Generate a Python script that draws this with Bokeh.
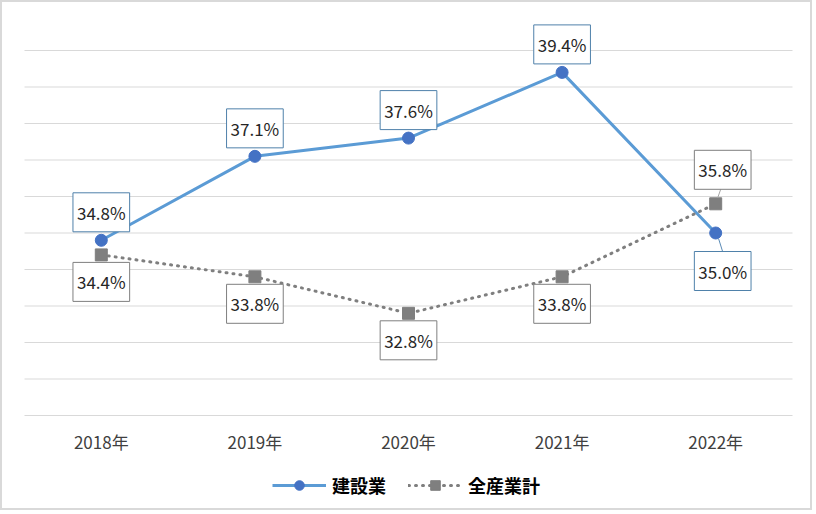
from bokeh.plotting import figure
from bokeh.models import (Range1d, Label, Legend, LegendItem)
from bokeh.embed import file_html
from bokeh.resources import INLINE

years = ["2018年", "2019年", "2020年", "2021年", "2022年"]
construction = [34.8, 37.1, 37.6, 39.4, 35.0]
all_industry = [34.4, 33.8, 32.8, 33.8, 35.8]
series_names = ["建設業", "全産業計"]
grid_values = list(range(30, 41))

FONT = "Noto Sans CJK JP"
xs = list(range(len(years)))

W, H = 812, 510
PX_X = 153.6   # pixels per category
PX_Y = 36.5    # pixels per percentage point

p = figure(width=W, height=H, output_backend="svg", toolbar_location=None,
           x_range=Range1d(-0.5 - 22 / PX_X, 4.5 + 22 / PX_X),
           y_range=Range1d(30 - 97 / PX_Y, 40 + 48 / PX_Y),
           min_border=0)
p.styles = {"border": "2px solid #d9d9d9"}
p.outline_line_color = None
p.background_fill_color = "white"
p.border_fill_color = "white"
p.xaxis.visible = False
p.yaxis.visible = False
p.xgrid.visible = False
p.ygrid.visible = False

# horizontal gridlines
p.segment(x0=[-0.5] * len(grid_values), x1=[4.5] * len(grid_values),
          y0=grid_values, y1=grid_values, line_color="#d9d9d9", line_width=1)

# category labels
p.text(x=xs, y=[30] * len(xs), text=years, y_offset=26,
       text_align="center", text_baseline="middle",
       text_font={"value": FONT}, text_font_size={"value": "17px"}, text_color="#404040")

l1 = p.line(xs, construction, line_color="#5b9bd5", line_width=3)
s1 = p.scatter(xs, construction, marker="circle", size=12, fill_color="#4472c4", line_color="#4472c4")
l2 = p.line(xs, all_industry, line_color="#7f7f7f", line_width=3, line_dash="1 6", line_cap="round")
s2 = p.scatter(xs, all_industry, marker="square", size=12, fill_color="#7f7f7f", line_color="#7f7f7f")


def add_label(x, v, dy, dx, border):
    p.add_layout(Label(x=x, y=v, text=f"{v:.1f}%", x_offset=dx, y_offset=dy,
                       text_align="center", text_baseline="middle",
                       text_font=FONT, text_font_size="17px", text_color="#262626",
                       background_fill_color="white", border_line_color=border,
                       border_line_width=1, padding=(4, 7)))


# construction labels
for i, v in enumerate(construction):
    if i == len(construction) - 1:
        dy, dx = -38, 7
        p.segment(x0=[i + 3 / PX_X], y0=[v - 6 / PX_Y], x1=[i + 8 / PX_X],
                  y1=[v - 22 / PX_Y], line_color="#5a8ab5", line_width=1)
    else:
        dy, dx = 28, 0
    add_label(i, v, dy, dx, "#4f81aa")

# all-industry labels
for i, v in enumerate(all_industry):
    if i == len(all_industry) - 1:
        dy, dx = 34, 7
        p.segment(x0=[i + 2 / PX_X], y0=[v + 6 / PX_Y], x1=[i + 7 / PX_X],
                  y1=[v + 20 / PX_Y], line_color="#a6a6a6", line_width=1)
    else:
        dy, dx = -27, 0
    add_label(i, v, dy, dx, "#7f7f7f")

legend = Legend(items=[LegendItem(label=series_names[0], renderers=[l1, s1]),
                       LegendItem(label=series_names[1], renderers=[l2, s2])],
                orientation="horizontal", location=(270, 14),
                label_text_font=FONT, label_text_font_size="18px",
                label_text_font_style="bold", label_text_color="#000000",
                glyph_width=54, glyph_height=24, spacing=22, label_standoff=6,
                border_line_color=None, background_fill_alpha=0,
                margin=0, padding=4)
p.add_layout(legend)

open("out.html", "w").write(file_html(p, INLINE))
